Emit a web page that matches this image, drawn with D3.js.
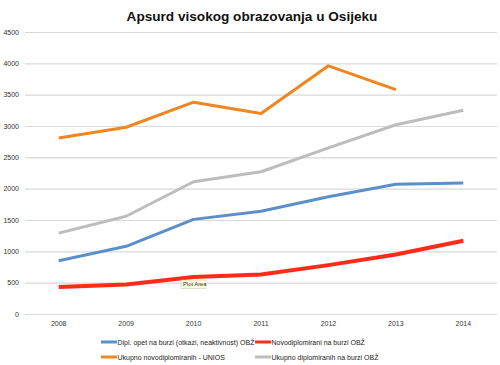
<!DOCTYPE html>
<html><head><meta charset="utf-8">
<script src="https://cdn.jsdelivr.net/npm/d3@7"></script>
<style>body{margin:0;background:#fff}svg{display:block;font-family:"Liberation Sans",Arial,sans-serif}</style>
</head><body><svg id="c" width="500" height="365"></svg>
<script>
const years = ["2008","2009","2010","2011","2012","2013","2014"];
const yTicks = [0,500,1000,1500,2000,2500,3000,3500,4000,4500];
const diplOpet = [850,1080,1510,1640,1870,2070,2090];
const novodiplomirani = [430,470,590,630,780,950,1170];
const ukupnoNovo = [2810,2980,3380,3200,3960,3580,null];
const ukupnoDipl = [1290,1560,2110,2270,2650,3020,3250];
const seriesNames = ["Dipl. opet na burzi (otkazi, neaktivnost) OBŽ","Novodiplomirani na burzi OBŽ","Ukupno novodiplomiranih - UNIOS","Ukupno diplomiranih na burzi OBŽ"];
const colors = ["#5b8fc9","#ff2a17","#f0861f","#bdbdbd"];
const widths = [3,4,3,3];

const svg = d3.select("#c");
const x = d3.scaleBand().domain(years).range([25,497]);
const y = d3.scaleLinear().domain([0,4500]).range([314,32]);

svg.append("text").attr("x",252).attr("y",20.5).attr("text-anchor","middle")
  .attr("font-size",13.6).attr("font-weight","bold").attr("fill","#111").text("Apsurd visokog obrazovanja u Osijeku");

const ya = svg.append("g").attr("transform","translate(25,0)")
  .call(d3.axisLeft(y).tickValues(yTicks).tickSize(-472).tickPadding(6).tickFormat(d3.format("d")));
ya.select(".domain").remove();
ya.selectAll(".tick line").attr("stroke","#d9d9d9").attr("stroke-width",1.2);
ya.selectAll(".tick text").attr("font-size",7).attr("fill","#333").attr("font-family","Liberation Sans, Arial, sans-serif");

const xa = svg.append("g").attr("transform","translate(0,314)")
  .call(d3.axisBottom(x).tickSize(0).tickPadding(7));
xa.select(".domain").remove();
xa.selectAll(".tick text").attr("font-size",7).attr("fill","#333").attr("font-family","Liberation Sans, Arial, sans-serif");

const all = [diplOpet,novodiplomirani,ukupnoNovo,ukupnoDipl];
const line = d3.line().defined(d=>d.v!=null).x(d=>x(d.y)+x.bandwidth()/2).y(d=>y(d.v));
const order = [3,2,0,1];
order.forEach(i=>{
  svg.append("path").datum(years.map((yr,j)=>({y:yr,v:all[i][j]})))
    .attr("d",line).attr("fill","none").attr("stroke",colors[i]).attr("stroke-width",widths[i])
    .attr("stroke-linejoin","round");
});

// tooltip artifact
const tt = svg.append("g").attr("transform","translate(181,280)");
tt.append("rect").attr("width",25).attr("height",8.5).attr("fill","#fdfbe0").attr("stroke","#c8c6a8").attr("stroke-width",0.5);
tt.append("text").attr("x",2).attr("y",6.3).attr("font-size",5.8).attr("fill","#333").text("Plot Area");

const legPos = [[101,342],[255,342],[101,357],[255,357]];
seriesNames.forEach((n,i)=>{
  const g = svg.append("g").attr("transform",`translate(${legPos[i][0]},${legPos[i][1]})`);
  g.append("line").attr("x1",0).attr("x2",16).attr("y1",0).attr("y2",0).attr("stroke",colors[i]).attr("stroke-width",3);
  g.append("text").attr("x",16.5).attr("y",2.5).attr("font-size",7).attr("fill","#222").text(n);
});
</script></body></html>
